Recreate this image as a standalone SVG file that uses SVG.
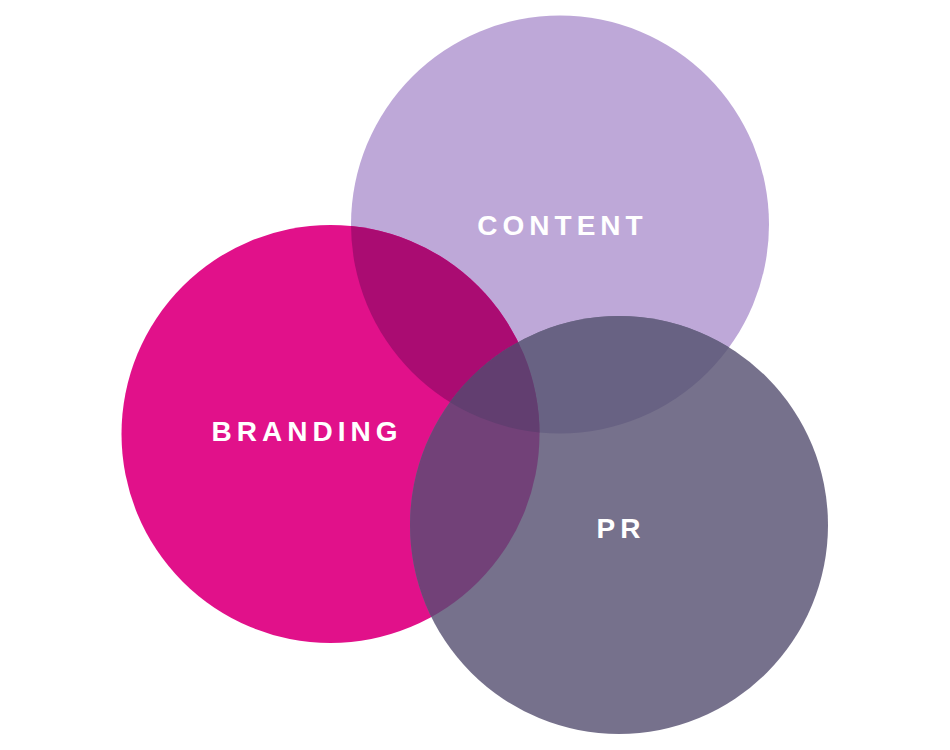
<svg xmlns="http://www.w3.org/2000/svg" width="950" height="750" viewBox="0 0 950 750">
  <style>
    .lbl { font-family: "Liberation Sans", Arial, sans-serif; font-weight: bold; font-size: 28px; fill: #FFFFFF; letter-spacing: 5px; text-anchor: middle; }
  </style>
  <defs>
    <clipPath id="clipContent"><circle cx="560" cy="224.5" r="209"/></clipPath>
    <clipPath id="clipBranding"><circle cx="330.5" cy="434" r="209"/></clipPath>
    <clipPath id="clipPR"><circle cx="619" cy="525" r="209"/></clipPath>
  </defs>
  <rect width="950" height="750" fill="#FFFFFF"/>
  <g id="content"><circle cx="560" cy="224.5" r="209" fill="#BEA8D8"/></g>
  <g id="branding"><circle cx="330.5" cy="434" r="209" fill="#E1118A"/></g>
  <g id="pr"><circle cx="619" cy="525" r="209" fill="#76718C"/></g>
  <g id="overlaps">
    <circle cx="330.5" cy="434" r="209" fill="#AA0C72" clip-path="url(#clipContent)"/>
    <circle cx="619" cy="525" r="209" fill="#686283" clip-path="url(#clipContent)"/>
    <circle cx="619" cy="525" r="209" fill="#724178" clip-path="url(#clipBranding)"/>
    <g clip-path="url(#clipContent)">
      <circle cx="619" cy="525" r="209" fill="#623E70" clip-path="url(#clipBranding)"/>
    </g>
  </g>
  <g id="labels">
    <text class="lbl" x="562.5" y="234.5">CONTENT</text>
    <text class="lbl" x="307" y="441">BRANDING</text>
    <text class="lbl" x="621" y="538">PR</text>
  </g>
</svg>
